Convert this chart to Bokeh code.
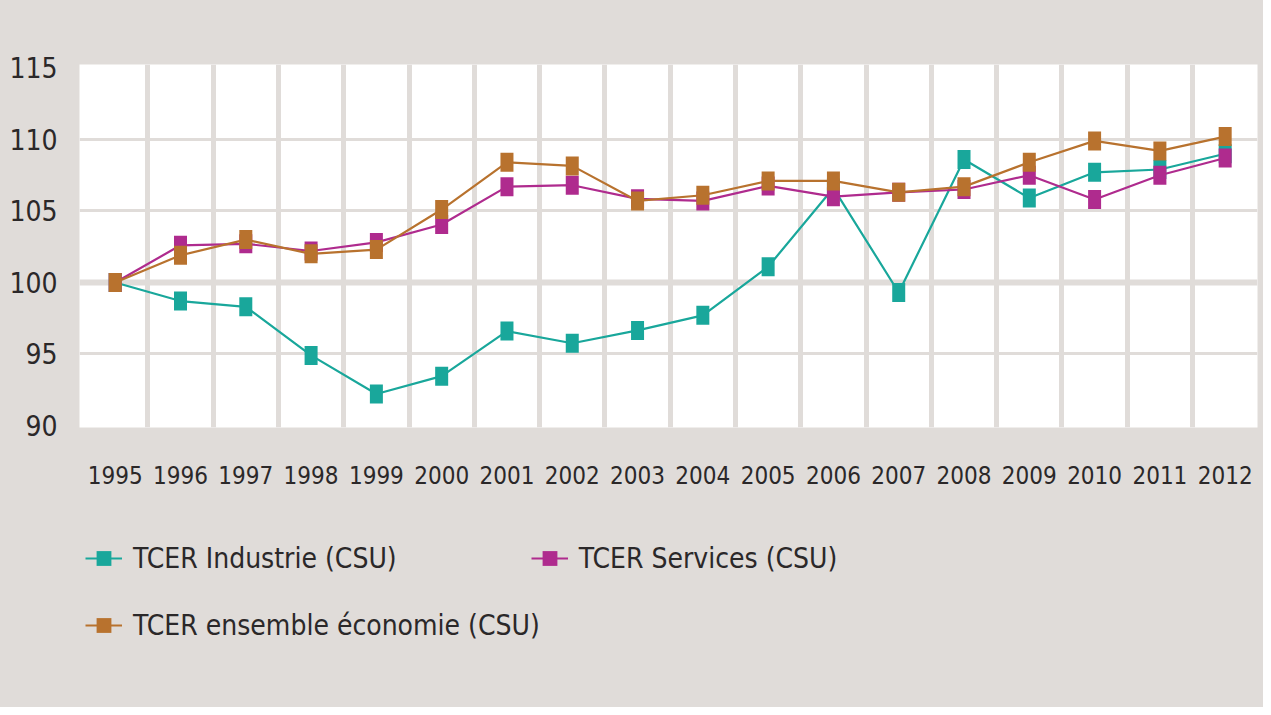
from bokeh.plotting import figure
from bokeh.layouts import column
from bokeh.models import Range1d, FixedTicker, Span, Legend, LegendItem
from bokeh.embed import file_html
from bokeh.resources import INLINE

years = list(range(1995, 2013))
industrie = [100, 98.7, 98.3, 94.9, 92.2, 93.45, 96.6, 95.75, 96.65, 97.7,
             101.1, 106.6, 99.3, 108.6, 105.9, 107.7, 107.9, 109.0]
services = [100, 102.6, 102.7, 102.2, 102.8, 104.05, 106.7, 106.8, 105.85, 105.7,
            106.75, 106.0, 106.3, 106.5, 107.5, 105.8, 107.5, 108.7]
ensemble = [100, 101.9, 103.0, 102.0, 102.3, 105.1, 108.4, 108.15, 105.7, 106.1,
            107.1, 107.1, 106.3, 106.7, 108.4, 109.9, 109.2, 110.2]
y_ticks = [90, 95, 100, 105, 110, 115]
labels = ["TCER Industrie (CSU)", "TCER Services (CSU)", "TCER ensemble économie (CSU)"]
colors = ["#19a79b", "#af2b8e", "#b8722e"]
series = [industrie, services, ensemble]

FONT = "DejaVu Sans Condensed, Roboto, sans-serif"
TXT = "#2b2829"
GREY = "#e0dcd9"

# ---------------- chart ----------------
p = figure(width=1263, height=512,
           x_range=Range1d(1994.453, 2012.495), y_range=Range1d(89.86, 115.24),
           output_backend="svg", toolbar_location=None,
           min_border_left=79, min_border_right=6, min_border_top=64, min_border_bottom=85,
           background_fill_color="white", border_fill_color=GREY, outline_line_color=None)

p.xgrid.ticker = FixedTicker(ticks=[y + 0.5 for y in years[:-1]])
p.xgrid.grid_line_color = GREY
p.xgrid.grid_line_width = 5
p.ygrid.ticker = FixedTicker(ticks=[95, 105, 110])
p.ygrid.grid_line_color = GREY
p.ygrid.grid_line_width = 3
p.add_layout(Span(location=100, dimension="width", line_color=GREY, line_width=6, level="underlay"))

for ax in (p.xaxis[0], p.yaxis[0]):
    ax.axis_line_color = None
    ax.major_tick_line_color = None
    ax.minor_tick_line_color = None
    ax.major_tick_in = 0
    ax.major_tick_out = 0
    ax.major_label_text_font = FONT
    ax.major_label_text_color = TXT
p.xaxis.ticker = FixedTicker(ticks=years)
p.xaxis.major_label_text_font_size = "24px"
p.xaxis.major_label_standoff = 38
p.yaxis.ticker = FixedTicker(ticks=y_ticks)
p.yaxis.major_label_text_font_size = "28px"
p.yaxis.major_label_standoff = 22

for vals, col in zip(series, colors):
    p.line(years, vals, line_color=col, line_width=2.2)
    p.rect(years, vals, width=13, height=19, width_units="screen", height_units="screen",
           fill_color=col, line_color=None)

# ---------------- legend strip ----------------
q = figure(width=1263, height=195, x_range=Range1d(0, 1), y_range=Range1d(0, 1),
           output_backend="svg", toolbar_location=None,
           x_axis_location=None, y_axis_location=None,
           min_border_left=79, min_border_right=6, min_border_top=0, min_border_bottom=0,
           background_fill_color=GREY, border_fill_color=GREY,
           outline_line_color=GREY, outline_line_width=4)
q.grid.visible = False

items = []
for vals, lab, col in zip(series, labels, colors):
    lr = q.line(years, vals, line_color=col, line_width=2.2, visible=False)
    sr = q.scatter(years, vals, marker="square", size=14, fill_color=col, line_color=None,
                   visible=False)
    items.append(LegendItem(label=lab, renderers=[lr, sr]))

def make_legend(its, loc, spacing=0):
    return Legend(items=its, orientation="horizontal", location=loc,
                  margin=0, padding=6, spacing=spacing,
                  glyph_width=37, glyph_height=40, label_standoff=11,
                  label_text_font=FONT, label_text_font_size="28px", label_text_color=TXT,
                  background_fill_alpha=0, border_line_alpha=0)

q.add_layout(make_legend(items[:2], (0, 123), spacing=134), "center")
q.add_layout(make_legend(items[2:], (0, 56)), "center")

layout = column(p, q, spacing=0, styles={"background-color": GREY})
open("out.html", "w").write(file_html(layout, INLINE))
